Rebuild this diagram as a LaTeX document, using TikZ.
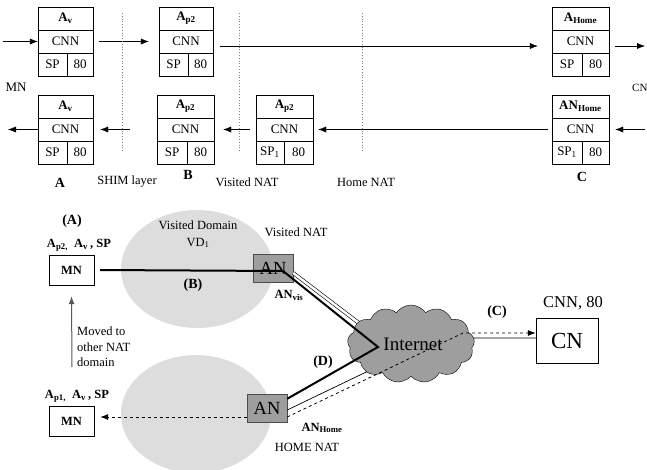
\documentclass[tikz,border=0pt]{standalone}
\usepackage{fontspec}
\setmainfont{Liberation Serif}
\usetikzlibrary{arrows.meta,shapes.symbols}
\definecolor{DomainGray}{RGB}{221,221,221}
\definecolor{NatGray}{RGB}{158,158,158}

\begin{document}
\begin{tikzpicture}[x=1pt, y=-1pt,
		cell/.style={draw, inner sep=0pt, minimum height=23pt, font=\fontsize{13}{15}\selectfont},
		arr/.style={-{Latex[length=8pt,width=6pt]}},
		sepline/.style={gray, dotted, line width=0.8pt},
		lbl/.style={inner sep=0pt, font=\fontsize{12.5}{15}\selectfont},
		bold/.style={inner sep=0pt, font=\fontsize{14}{16}\selectfont\bfseries},
		natbox/.style={draw=black!70, fill=NatGray, minimum width=40pt, minimum height=28pt, inner sep=0pt, font=\fontsize{18.5}{20}\selectfont},
		mnbox/.style={draw, minimum width=45pt, minimum height=30pt, inner sep=0pt, font=\fontsize{12.5}{14}\selectfont\bfseries}]
			\useasboundingbox (0,0) rectangle (647,469);

			% packet headers, upper row
			\node[cell, minimum width=55pt] (b1h) at (65.5, 18.5) {\textbf{A\textsubscript{v}}};
			\node[cell, minimum width=55pt] (b1c) at (65.5, 41.5) {CNN};
			\node[cell, minimum width=29pt] (b1s) at (52.5, 64.5) {SP};
			\node[cell, minimum width=26pt] (b1p) at (80, 64.5) {80};

			\node[cell, minimum width=54pt] (b2h) at (186, 18.5) {\textbf{A\textsubscript{p2}}};
			\node[cell, minimum width=54pt] (b2c) at (186, 41.5) {CNN};
			\node[cell, minimum width=29pt] (b2s) at (173.5, 64.5) {SP};
			\node[cell, minimum width=25pt] (b2p) at (200.5, 64.5) {80};

			\node[cell, minimum width=57pt] (b3h) at (580.5, 18.5) {\textbf{A\textsubscript{Home}}};
			\node[cell, minimum width=57pt] (b3c) at (580.5, 41.5) {CNN};
			\node[cell, minimum width=30pt] (b3s) at (567, 64.5) {SP};
			\node[cell, minimum width=27pt] (b3p) at (595.5, 64.5) {80};

			% packet headers, lower row
			\node[cell, minimum width=55pt] (b4h) at (65.5, 106.5) {\textbf{A\textsubscript{v}}};
			\node[cell, minimum width=55pt] (b4c) at (65.5, 129.5) {CNN};
			\node[cell, minimum width=29pt] (b4s) at (52.5, 152.5) {SP};
			\node[cell, minimum width=26pt] (b4p) at (80, 152.5) {80};

			\node[cell, minimum width=57pt] (b5h) at (185.5, 106.5) {\textbf{A\textsubscript{p2}}};
			\node[cell, minimum width=57pt] (b5c) at (185.5, 129.5) {CNN};
			\node[cell, minimum width=30pt] (b5s) at (172, 152.5) {SP};
			\node[cell, minimum width=27pt] (b5p) at (200.5, 152.5) {80};

			\node[cell, minimum width=57pt] (b6h) at (284.5, 106.5) {\textbf{A\textsubscript{p2}}};
			\node[cell, minimum width=57pt] (b6c) at (284.5, 129.5) {CNN};
			\node[cell, minimum width=28pt] (b6s) at (270, 152.5) {SP\textsubscript{1}};
			\node[cell, minimum width=29pt] (b6p) at (298.5, 152.5) {80};

			\node[cell, minimum width=57pt] (b7h) at (580.5, 106.5) {\textbf{AN\textsubscript{Home}}};
			\node[cell, minimum width=57pt] (b7c) at (580.5, 129.5) {CNN};
			\node[cell, minimum width=30pt] (b7s) at (567, 152.5) {SP\textsubscript{1}};
			\node[cell, minimum width=27pt] (b7p) at (595.5, 152.5) {80};

			\coordinate (in1) at (3, 41.5);
			\coordinate (out1) at (645, 46);
			\coordinate (in2) at (645, 129.5);
			\coordinate (out2) at (8, 129.5);

			\draw[arr] (in1) -- (b1c.west);
			\draw[arr] ([xshift=6pt]b1c.east) -- ([xshift=-10pt]b2c.west);
			\draw[arr] ([xshift=7pt, yshift=-4.5pt]b2c.east) -- ([xshift=-14pt, yshift=-4.5pt]b3c.west);
			\draw[arr] ([xshift=6pt, yshift=-4.5pt]b3c.east) -- (out1);

			\draw[arr] (in2) -- ([xshift=6pt]b7c.east);
			\draw[arr] ([xshift=-4pt]b7c.west) -- ([xshift=5pt]b6c.east);
			\draw[arr] ([xshift=-6pt]b6c.west) -- ([xshift=9pt]b5c.east);
			\draw[arr] ([xshift=-27pt]b5c.west) -- ([xshift=7pt]b4c.east);
			\draw[arr] (b4c.west) -- (out2);

			\draw[sepline] (122, 13) -- (122, 153);
			\draw[sepline] (239, 13) -- (239, 153);
			\draw[sepline] (362, 13) -- (362, 153);

			\node[lbl, font=\fontsize{13}{15}\selectfont] (mnl) at (16, 87) {MN};
			\node[lbl, font=\fontsize{11}{13}\selectfont, anchor=west] (cnl) at (632, 88) {CN};
			\node[bold] (la) at (60, 183) {A};
			\node[lbl] (shim) at (127, 182) {SHIM layer};
			\node[bold] (lb) at (188, 175) {B};
			\node[lbl] (vnat) at (247, 182) {Visited NAT};
			\node[lbl] (hnat) at (366, 182) {Home NAT};
			\node[bold] (lc) at (582, 177) {C};

			% network view
			\fill[DomainGray] (197, 269) ellipse [x radius=76pt, y radius=59pt];
			\fill[DomainGray] (196, 414) ellipse [x radius=75pt, y radius=59pt];

			\node[mnbox] (mn1) at (71.5, 270) {MN};
			\node[mnbox] (mn2) at (71.5, 421) {MN};
			\node[natbox] (anv) at (273, 268) {AN};
			\node[natbox] (anh) at (267, 408) {AN};
			\node[draw, minimum width=62pt, minimum height=45pt, inner sep=0pt, font=\fontsize{23}{25}\selectfont] (cn) at (567, 340.5) {CN};

			\node[bold] (pa) at (72, 221) {(A)};
			\node[lbl, font=\fontsize{12.5}{15}\selectfont\bfseries] (adra) at (79, 245) {A\textsubscript{p2,}\ \ A\textsubscript{v}\,, SP};
			\node[lbl, font=\fontsize{12.5}{15}\selectfont\bfseries] (adrb) at (77, 396) {A\textsubscript{p1,}\ \ A\textsubscript{v}\,, SP};
			\node[lbl] (vd) at (198, 225) {Visited Domain};
			\node[lbl] (vd1) at (198, 243) {VD\textsubscript{1}};
			\node[lbl] (vnat2) at (296, 232) {Visited NAT};
			\node[bold] (pb) at (193, 285) {(B)};
			\node[lbl, font=\fontsize{12.5}{15}\selectfont\bfseries] (anvl) at (289, 295) {AN\textsubscript{vis}};
			\node[bold] (pd) at (323, 362) {(D)};
			\node[lbl, font=\fontsize{12.5}{15}\selectfont\bfseries] (anhl) at (322, 428) {AN\textsubscript{Home}};
			\node[lbl] (hnat2) at (307, 447) {HOME NAT};
			\node[bold] (pc) at (497, 312) {(C)};
			\node[lbl, font=\fontsize{16.5}{18}\selectfont] (cnport) at (573, 303) {CNN, 80};
			\node[lbl, anchor=north west, align=left, font=\fontsize{12.5}{15.5}\selectfont] (moved) at (77, 327) {Moved to\\other NAT\\domain};

			\coordinate (mv) at (72, 367);
			\draw[arr, black!65, line width=1pt] (mv) -- ([yshift=-11pt]mn1.south);

			% links under the cloud
			\coordinate (vin) at (368, 330);
			\coordinate (hin) at (437, 338);
			\draw[line width=0.6pt, double=white, double distance=2.5pt] ([yshift=-5pt]anv.east) -- (vin);
			\draw[line width=0.7pt] ([yshift=-2pt]anh.east) -- (hin) -- ([yshift=2.5pt]cn.west);

			\node[cloud, draw, fill=NatGray, cloud puffs=13, cloud puff arc=110, aspect=1.7, minimum width=127pt, minimum height=78pt, inner sep=0pt, font=\fontsize{19}{21}\selectfont] (inet) at (411, 344) {\hspace{4pt}Internet};

			\coordinate (bend) at (283, 271);
			\coordinate (vtx) at (378, 347);
			\coordinate (hout) at (463, 333);
			\draw[line width=2pt] ([xshift=6pt]mn1.east) -- (bend) -- (vtx) -- ([yshift=-5pt]anh.north east);
			\draw[arr, dashed, line width=0.8pt] ([yshift=-9pt]anh.east) -- (hout) -- ([yshift=7.5pt]cn.west);
			\draw[arr, dashed, line width=0.8pt] ([yshift=-9pt]anh.west) -- ([xshift=6pt, yshift=4pt]mn2.east);
		\end{tikzpicture}
\end{document}
